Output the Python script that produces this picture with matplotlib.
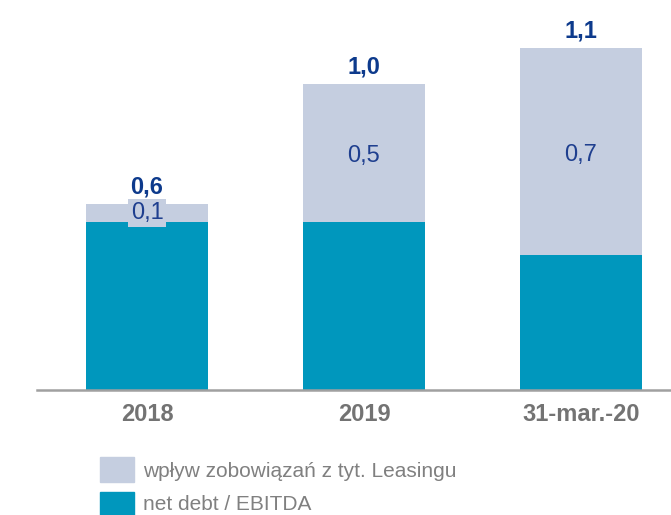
import matplotlib
matplotlib.use("Agg")
import matplotlib.pyplot as plt
from matplotlib.patches import Rectangle

plt.rcParams['font.family'] = ['Liberation Sans', 'DejaVu Sans']

categories = ["2018", "2019", "31-mar.-20"]
net_debt = [0.56, 0.56, 0.45]
leasing = [0.06, 0.46, 0.69]
series_labels = ["wpływ zobowiązań z tyt. Leasingu", "net debt / EBITDA"]

teal = "#0097bd"
light = "#c5cee0"
W, H = 671, 515
fig = plt.figure(figsize=(W / 100, H / 100), dpi=100)
ax = fig.add_axes([37 / W, (H - 390) / H, 1 - 37 / W, 390 / H])

x = list(range(len(categories)))
ax.bar(x, net_debt, width=0.56, color=teal)
ax.bar(x, leasing, width=0.56, bottom=net_debt, color=light)

ax.set_xlim(-0.507, 2.415)
ax.set_ylim(0, 1.3)

for i in x:
    tot = net_debt[i] + leasing[i]
    ax.text(i, tot + 0.035, f"{tot:.1f}".replace(".", ","), ha="center", va="baseline",
            fontsize=17, fontweight="bold", color="#0d3a8c")
    mid = net_debt[i] + leasing[i] / 2
    if leasing[i] < 0.1:
        ax.text(i, mid, f"{leasing[i]:.1f}".replace(".", ","), ha="center", va="center",
                fontsize=17, color="#1f3f8f",
                bbox=dict(boxstyle="square,pad=0.12", fc=light, ec="none"))
    else:
        ax.text(i, mid - 0.031, f"{leasing[i]:.1f}".replace(".", ","), ha="center",
                va="baseline", fontsize=17, color="#1f3f8f")

for s in ["top", "right", "left"]:
    ax.spines[s].set_visible(False)
ax.spines["bottom"].set_color("#a0a0a0")
ax.spines["bottom"].set_linewidth(1.8)
ax.set_yticks([])
ax.set_xticks(x)
ax.set_xticklabels(categories, fontsize=17, fontweight="bold", color="#737373")
ax.tick_params(axis="x", length=0, pad=9.5)

# legend
legend_colors = [light, teal]
baselines = [477, 510]
for k, (lab, col) in enumerate(zip(series_labels, legend_colors)):
    y0 = 457 + k * 35
    fig.patches.append(Rectangle((100 / W, (H - y0 - 25) / H), 34 / W, 25 / H,
                                 transform=fig.transFigure, color=col))
    fig.text(143 / W, (H - baselines[k]) / H, lab, fontsize=15, color="#808080",
             va="baseline", ha="left")

fig.savefig("out.png", dpi=100)
